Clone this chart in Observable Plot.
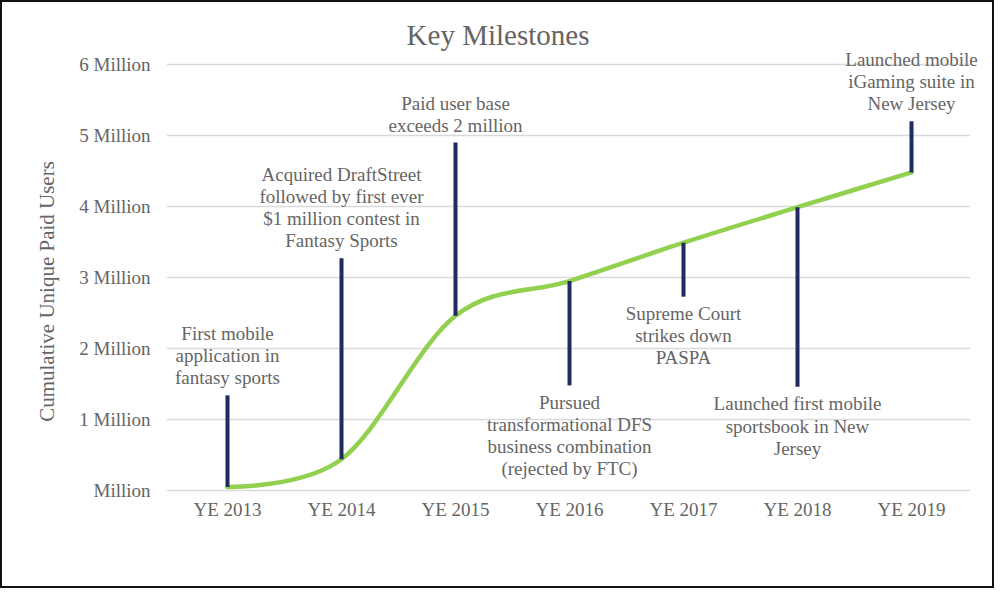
<!DOCTYPE html>
<html>
<head>
<meta charset="utf-8">
<script src="https://cdn.jsdelivr.net/npm/d3@7"></script>
<script src="https://cdn.jsdelivr.net/npm/@observablehq/plot@0.6"></script>
<style>
  html, body { margin: 0; padding: 0; background: #fff; }
  #wrap { position: relative; width: 1000px; height: 596px; overflow: hidden; }
  #border { position: absolute; left: 0; top: 0; width: 990px; height: 584px; border: 2px solid #111; box-sizing: content-box; }
  #chart { position: absolute; left: 0; top: 0; }
</style>
</head>
<body>
<div id="wrap"><div id="chart"></div><div id="border"></div></div>
<script>
// ---- data ----
const years = ["YE 2013", "YE 2014", "YE 2015", "YE 2016", "YE 2017", "YE 2018", "YE 2019"];
const paidUsers = [0.05, 0.44, 2.46, 2.95, 3.49, 3.99, 4.48]; // millions
const milestoneText = [
  "First mobile\napplication in\nfantasy sports",
  "Acquired DraftStreet\nfollowed by first ever\n$1 million contest in\nFantasy Sports",
  "Paid user base\nexceeds 2 million",
  "Pursued\ntransformational DFS\nbusiness combination\n(rejected by FTC)",
  "Supreme Court\nstrikes down\nPASPA",
  "Launched first mobile\nsportsbook in New\nJersey",
  "Launched mobile\niGaming suite in\nNew Jersey"
];
const milestoneEnd = [1.34, 3.27, 4.9, 1.48, 2.73, 1.46, 5.2]; // millions, far end of leader line
const yTicks = [0, 1, 2, 3, 4, 5, 6];
const yTickLabels = ["Million", "1 Million", "2 Million", "3 Million", "4 Million", "5 Million", "6 Million"];

const rows = years.map((y, i) => ({year: y, users: paidUsers[i], end: milestoneEnd[i], text: milestoneText[i], up: milestoneEnd[i] > paidUsers[i]}));

const font = "'Liberation Serif', 'Times New Roman', serif";
const gray = "#656565";

const chart = Plot.plot({
  width: 1000,
  height: 596,
  marginLeft: 167,
  marginRight: 30,
  marginTop: 64,
  marginBottom: 106,
  style: {fontFamily: font, fontSize: "19px", color: gray, background: "transparent"},
  x: {type: "point", domain: years, padding: 0.5, label: null},
  y: {domain: [0, 6], label: null},
  marks: [
    Plot.ruleY(yTicks, {stroke: "#d9d9d9", strokeWidth: 1.5}),
    Plot.axisY(yTicks, {tickSize: 0, tickPadding: 17, label: null, fontSize: 19, fill: gray,
      tickFormat: (d) => yTickLabels[yTicks.indexOf(d)]}),
    Plot.axisX(years, {tickSize: 0, tickPadding: 12, label: null, fontSize: 19, fill: gray}),
    Plot.line(rows, {x: "year", y: "users", stroke: "#92D050", strokeWidth: 4.5, curve: "cardinal"}),
    Plot.link(rows, {x1: "year", x2: "year", y1: "users", y2: "end", stroke: "#1F2A5E", strokeWidth: 4}),
    Plot.text(rows.filter(d => d.up), {x: "year", y: "end", text: "text", lineAnchor: "bottom", lineHeight: 1.16, dy: -11, fill: gray, fontSize: 19}),
    Plot.text(rows.filter(d => !d.up), {x: "year", y: "end", text: "text", lineAnchor: "top", lineHeight: 1.16, dy: 8, fill: gray, fontSize: 19}),
    Plot.text(["Key Milestones"], {frameAnchor: "top", dx: -71, dy: -29, fontSize: 29, fill: gray, lineAnchor: "middle"}),
    Plot.text(["Cumulative Unique Paid Users"], {frameAnchor: "left", textAnchor: "middle", dx: -120, dy: 14, rotate: -90, fontSize: 21, fill: gray})
  ]
});
document.getElementById("chart").appendChild(chart);
</script>
</body>
</html>
